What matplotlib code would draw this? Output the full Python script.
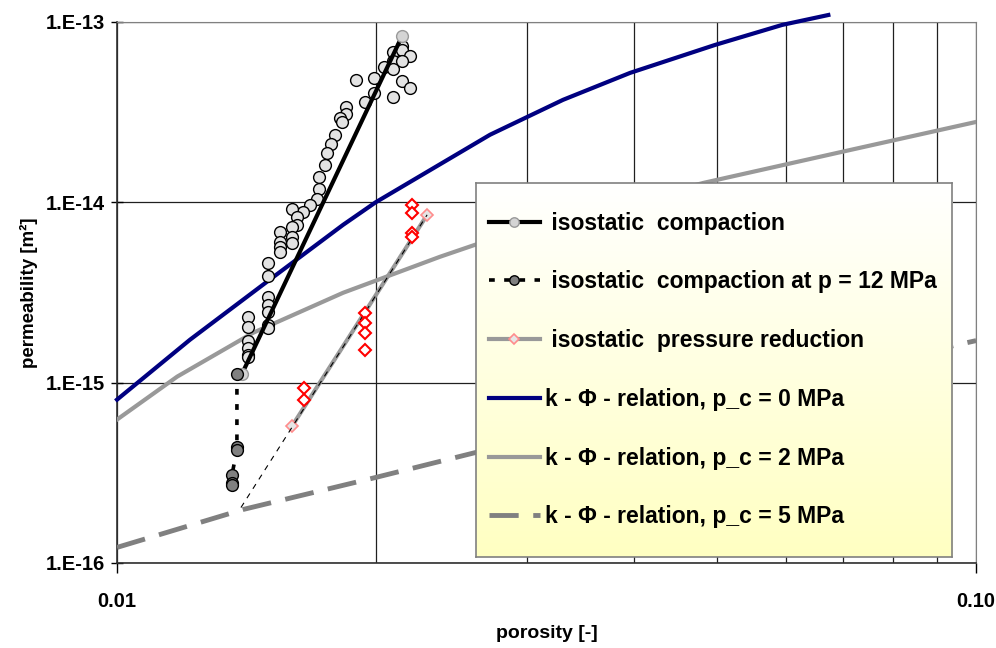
import numpy as np
import matplotlib
matplotlib.use("Agg")
import matplotlib.pyplot as plt
from matplotlib.ticker import LogLocator, NullLocator, NullFormatter

plt.rcParams['font.family'] = ['Liberation Sans', 'DejaVu Sans']
plt.rcParams['font.weight'] = 'bold'

# isostatic compaction - measured points
comp_x = [0.02147, 0.02096, 0.02147, 0.02193, 0.02096, 0.02147, 0.02046, 0.02096,
          0.01992, 0.01898, 0.02147, 0.02193, 0.01992, 0.02096, 0.01945, 0.01848,
          0.01848, 0.01818, 0.01828, 0.01794, 0.01775, 0.01756, 0.01747, 0.0172,
          0.0172, 0.0171, 0.01678, 0.01646, 0.0160, 0.0162, 0.0162, 0.0160,
          0.01548, 0.01548, 0.0160, 0.0160, 0.01548, 0.01548, 0.0150, 0.0150,
          0.0150, 0.0150, 0.0150, 0.0150, 0.0150, 0.01421, 0.01421, 0.01421,
          0.01421, 0.01421, 0.01421]
comp_y = [7.36e-14, 6.82e-14, 7.0e-14, 6.48e-14, 6.08e-14, 6.08e-14, 5.63e-14, 5.49e-14,
          4.89e-14, 4.77e-14, 4.71e-14, 4.31e-14, 4.04e-14, 3.84e-14, 3.60e-14, 3.38e-14,
          3.09e-14, 2.94e-14, 2.79e-14, 2.37e-14, 2.11e-14, 1.88e-14, 1.61e-14, 1.38e-14,
          1.19e-14, 1.046e-14, 9.68e-15, 8.86e-15, 9.2e-15, 8.31e-15, 7.5e-15, 7.31e-15,
          6.86e-15, 6.04e-15, 6.44e-15, 5.96e-15, 5.67e-15, 5.32e-15, 4.62e-15, 3.92e-15,
          3.0e-15, 2.70e-15, 2.47e-15, 2.10e-15, 2.02e-15, 2.32e-15, 2.04e-15, 1.71e-15,
          1.56e-15, 1.43e-15, 1.39e-15]
comp_line_x = [0.01398, 0.02147]
comp_line_y = [1.12e-15, 8.36e-14]

# isostatic compaction at p = 12 MPa
p12_x = [0.01379, 0.01379, 0.01379, 0.01361, 0.01361, 0.01361]
p12_y = [1.12e-15, 4.42e-16, 4.25e-16, 3.09e-16, 2.79e-16, 2.72e-16]

# isostatic pressure reduction
red_x = [0.0165, 0.0165, 0.01945, 0.01945, 0.01945, 0.01945, 0.02205, 0.02205, 0.02205, 0.02205]
red_y = [9.38e-16, 8.05e-16, 2.44e-15, 2.15e-15, 1.89e-15, 1.52e-15, 9.68e-15, 8.75e-15, 6.78e-15, 6.44e-15]
red_line_x = [0.0160, 0.02296]
red_line_y = [5.78e-16, 8.52e-15]
red_trend_x = [0.01394, 0.02296]
red_trend_y = [2.03e-16, 8.52e-15]

# k - phi relations
k0_x = [0.01, 0.01216, 0.01495, 0.01833, 0.02, 0.02235, 0.02718, 0.03305, 0.03956, 0.04968, 0.05946, 0.0673]
k0_y = [8.05e-16, 1.73e-15, 3.63e-15, 7.5e-15, 1.0e-14, 1.367e-14, 2.37e-14, 3.70e-14, 5.22e-14, 7.46e-14, 9.63e-14, 1.093e-13]
k2_x = [0.01, 0.01175, 0.0144, 0.01833, 0.02377, 0.0261, 0.04811, 0.07134, 0.1]
k2_y = [6.24e-16, 1.08e-15, 1.89e-15, 3.15e-15, 4.99e-15, 5.81e-15, 1.28e-14, 1.95e-14, 2.79e-14]
k5_x = [0.01, 0.01402, 0.02, 0.0261, 0.1]
k5_y = [1.22e-16, 1.98e-16, 2.98e-16, 4.09e-16, 1.71e-15]

labels = [" isostatic  compaction",
          " isostatic  compaction at p = 12 MPa",
          " isostatic  pressure reduction",
          "k - \u03a6 - relation, p_c = 0 MPa",
          "k - \u03a6 - relation, p_c = 2 MPa",
          "k - \u03a6 - relation, p_c = 5 MPa"]

fig = plt.figure(figsize=(9.96, 6.48), dpi=100)
ax = fig.add_axes([0.1175, 0.1312, 0.8625, 0.8349])
ax.set_xscale('log')
ax.set_yscale('log')
ax.set_xlim(0.01, 0.1)
ax.set_ylim(1e-16, 1e-13)

h_k0, = ax.plot(k0_x, k0_y, color='#000080', lw=3, clip_on=False, zorder=3)
h_k2, = ax.plot(k2_x, k2_y, color='#999999', lw=3, zorder=3)
h_k5, = ax.plot(k5_x, k5_y, color='#808080', lw=3.5, dashes=(6, 3), zorder=3)

ax.plot(comp_x, comp_y, ls='none', marker='o', ms=8.5, mfc='#e3e3e3', mec='black', mew=1, zorder=4)
h_comp, = ax.plot(comp_line_x, comp_line_y, color='black', lw=3, marker='o', ms=8.5,
                  mfc='#d4d4d4', mec='#999999', mew=1, zorder=5)
h_p12, = ax.plot(p12_x, p12_y, color='black', lw=2.6, dashes=(1.6, 2.6), marker='o', ms=8.5,
                 mfc='#808080', mec='black', mew=1, zorder=6)

h_red, = ax.plot(red_line_x, red_line_y, color='#999999', lw=3, marker='D', ms=6.5,
                 mfc='#e6e6e6', mec='#ff8c8c', mew=1.2, zorder=4)
ax.plot(red_trend_x, red_trend_y, color='black', lw=0.8, dashes=(5, 5), zorder=5)
ax.plot(red_x, red_y, ls='none', marker='D', ms=6.5, mfc='white', mec='#ff0000', mew=1.5, zorder=6)

ax.set_xticks([0.01, 0.1])
ax.set_xticklabels(['0.01', '0.10'])
ax.xaxis.set_minor_locator(LogLocator(base=10, subs=np.arange(2, 10)))
ax.xaxis.set_minor_formatter(NullFormatter())
ax.set_yticks([1e-16, 1e-15, 1e-14, 1e-13])
ax.set_yticklabels(['1.E-16', '1.E-15', '1.E-14', '1.E-13'])
ax.yaxis.set_minor_locator(NullLocator())
ax.tick_params(axis='x', which='major', direction='out', length=7, width=1, labelsize=14.5, pad=14)
ax.tick_params(axis='x', which='minor', length=0)
ax.tick_params(axis='y', which='major', direction='inout', length=9, width=1, labelsize=14.5, pad=4)
ax.grid(True, which='major', axis='y', color='#202020', lw=0.9)
ax.grid(True, which='both', axis='x', color='#202020', lw=0.9)

for s in ['top', 'right']:
    ax.spines[s].set_color('#808080')
for s in ['left', 'bottom']:
    ax.spines[s].set_color('#303030')
    ax.spines[s].set_linewidth(1.2)

ax.set_xlabel('porosity [-]', fontsize=14, fontweight='bold', labelpad=10)
ax.set_ylabel('permeability [m\u00b2]', fontsize=13.5, fontweight='bold', labelpad=6)

# legend box with white-to-yellow gradient
lax = fig.add_axes([0.478, 0.1404, 0.478, 0.577], zorder=10)
grad = np.linspace(0, 1, 256).reshape(-1, 1)
colors = np.ones((256, 1, 3))
colors[:, 0, 2] = 1 - 0.24 * grad[:, 0]
lax.imshow(colors, aspect='auto', extent=[0, 1, 0, 1], origin='upper')
lax.set_xlim(0, 1)
lax.set_ylim(0, 1)
lax.set_xticks([])
lax.set_yticks([])
for s in lax.spines.values():
    s.set_color('#808080')
    s.set_linewidth(1.2)

lax.legend([h_comp, h_p12, h_red, h_k0, h_k2, h_k5], labels, loc='center left',
           bbox_to_anchor=(13 / 476, 0.5), frameon=False, borderpad=0, borderaxespad=0,
           handlelength=2.2, handletextpad=0.25, labelspacing=1.56, numpoints=1,
           markerscale=0.8, prop={'size': 16.5, 'weight': 'bold'})

fig.savefig('out.png', dpi=100)
